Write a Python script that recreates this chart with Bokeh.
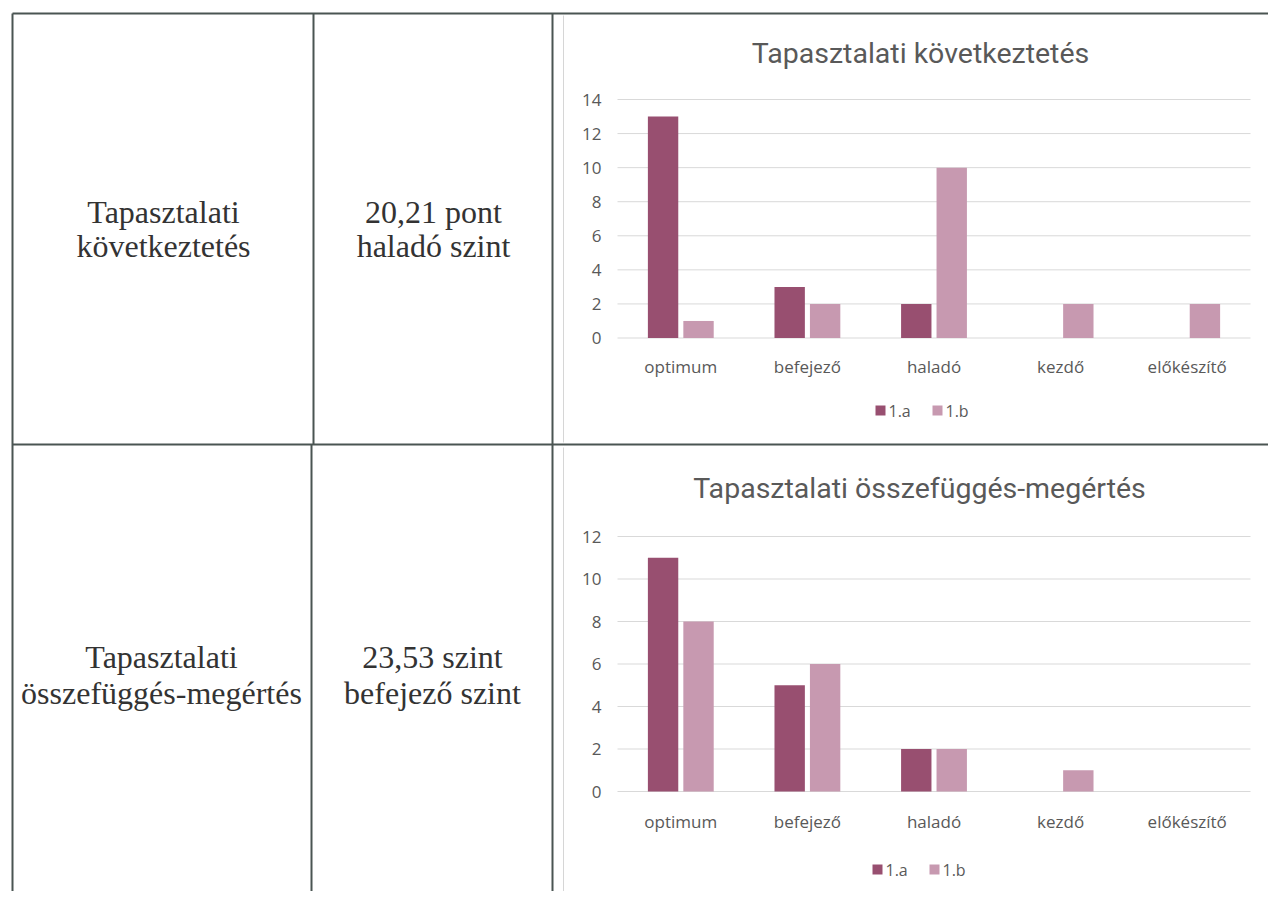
from bokeh.plotting import figure
from bokeh.models import ColumnDataSource, Range1d
from bokeh.transform import dodge
from bokeh.embed import file_html
from bokeh.resources import INLINE
from bokeh.core.properties import value

# ---------------- data ----------------
categories = ["optimum", "befejező", "haladó", "kezdő", "előkészítő"]
series_names = ["1.a", "1.b"]

chart1_title = "Tapasztalati következtetés"
chart1_a = [13, 3, 2, 0, 0]
chart1_b = [1, 2, 10, 2, 2]
chart1_ticks = [0, 2, 4, 6, 8, 10, 12, 14]

chart2_title = "Tapasztalati összefüggés-megértés"
chart2_a = [11, 5, 2, 0, 0]
chart2_b = [8, 6, 2, 1, 0]
chart2_ticks = [0, 2, 4, 6, 8, 10, 12]

row1_label = ["Tapasztalati", "következtetés"]
row1_score = ["20,21 pont", "haladó szint"]
row2_label = ["Tapasztalati", "összefüggés-megértés"]
row2_score = ["23,53 szint", "befejező szint"]

# ---------------- style / layout ----------------
W, H = 1268, 891
COL_A = "#984f70"
COL_B = "#c799b0"
LINE = "#4a5552"
TXT = "#595959"
GRID = "#d9d9d9"
SANS = value("Open Sans")
TITLE_FONT = value("Roboto")
SERIF = value("Liberation Serif")

p = figure(width=W, height=H, x_range=Range1d(0, W), y_range=Range1d(H, 0),
           min_border=0, x_axis_type=None, y_axis_type=None,
           output_backend="svg", toolbar_location=None)
p.grid.visible = False
p.outline_line_color = None
p.background_fill_color = "white"
p.border_fill_color = "white"

# ---------------- table frame ----------------
p.segment(x0=[12, 12, 12, 313, 311, 552], y0=[13, 444, 13, 13, 444, 13],
          x1=[W, W, 12, 313, 311, 552], y1=[13, 444, H, 444, H, H],
          line_color=LINE, line_width=2)
# faint chart-area borders
p.segment(x0=[563, 563], y0=[15, 447], x1=[563, 563], y1=[442, H],
          line_color="#d6d6d6", line_width=1)

# ---------------- cell texts ----------------
for x, ys, txt in ((163, (211, 245), row1_label),
                   (433, (211, 245), row1_score),
                   (161, (656, 692), row2_label),
                   (432, (656, 692), row2_score)):
    p.text(x=[x, x], y=list(ys), text=txt, text_font=SERIF,
           text_font_size="32px", text_align="center",
           text_baseline="alphabetic", text_color="#333333")


# ---------------- charts ----------------
def add_chart(key, title, a, b, ticks, plot_left, plot_right, y0px, ytop_px,
              title_xy, cat_y, legend_xy):
    n = len(categories)
    catw = (plot_right - plot_left) / n
    unit = (y0px - ytop_px) / ticks[-1]
    xr, yr = key + "_x", key + "_y"
    p.extra_x_ranges[xr] = Range1d(start=-plot_left / catw,
                                   end=(W - plot_left) / catw)
    p.extra_y_ranges[yr] = Range1d(start=-(H - y0px) / unit, end=y0px / unit)

    src = ColumnDataSource(dict(pos=[i + 0.5 for i in range(n)],
                                cat=categories, a=a, b=b))
    tsrc = ColumnDataSource(dict(y=ticks, lbl=[str(t) for t in ticks]))

    # gridlines
    p.segment(x0=plot_left, x1=plot_right, y0="y", y1="y", source=tsrc,
              y_range_name=yr, line_color=GRID, line_width=1)
    # y tick labels
    p.text(x=plot_left - 16, y="y", text="lbl", source=tsrc, y_range_name=yr,
           text_font=SANS, text_font_size="17px", text_color=TXT,
           text_align="right", text_baseline="middle")
    # bars
    p.vbar(x=dodge("pos", -0.14), top="a", bottom=0, width=0.24, source=src,
           x_range_name=xr, y_range_name=yr, fill_color=COL_A, line_color=None)
    p.vbar(x=dodge("pos", 0.14), top="b", bottom=0, width=0.24, source=src,
           x_range_name=xr, y_range_name=yr, fill_color=COL_B, line_color=None)
    # category labels
    p.text(x="pos", y=cat_y, text="cat", source=src, x_range_name=xr,
           text_font=SANS, text_font_size="17px", text_color=TXT,
           text_align="center", text_baseline="middle")
    # title
    p.text(x=[title_xy[0]], y=[title_xy[1]], text=[title], text_font=TITLE_FONT,
           text_font_size="28.5px", text_color=TXT, text_align="center",
           text_baseline="middle")
    # legend
    lx, ly = legend_xy
    p.rect(x=[lx, lx + 57], y=[ly, ly], width=10, height=10,
           fill_color=[COL_A, COL_B], line_color=None)
    p.text(x=[lx + 8, lx + 65], y=[ly, ly], text=series_names, text_font=SANS,
           text_font_size="16px", text_color=TXT, text_align="left",
           text_baseline="middle")


add_chart("c1", chart1_title, chart1_a, chart1_b, chart1_ticks,
          617, 1250, 337.5, 99, (920, 53), 366, (880, 410))
add_chart("c2", chart2_title, chart2_a, chart2_b, chart2_ticks,
          617, 1250, 791, 536, (919, 488), 821, (877, 869))

open("out.html", "w").write(file_html(p, INLINE))
